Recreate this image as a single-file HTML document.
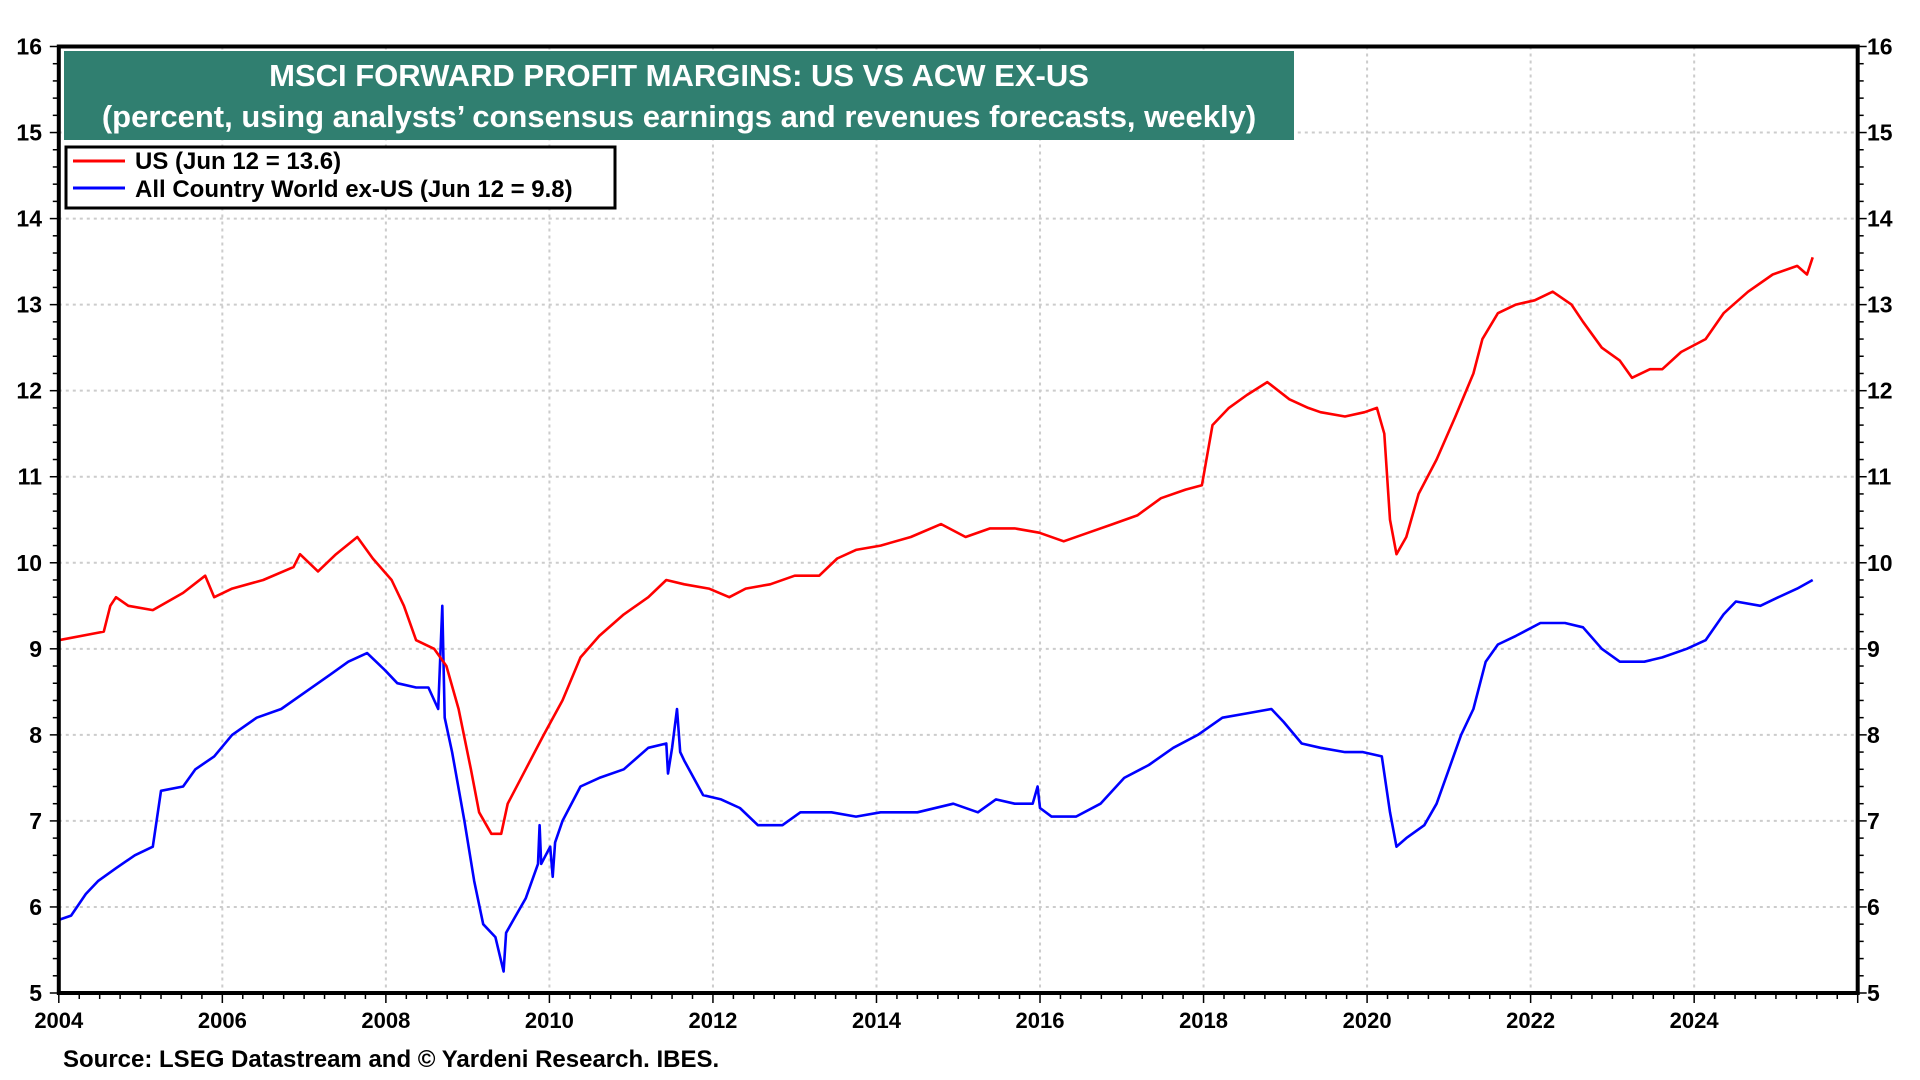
<!DOCTYPE html>
<html><head><meta charset="utf-8"><style>
html,body{margin:0;padding:0;background:#fff;width:1920px;height:1080px;overflow:hidden}
svg text{font-family:"Liberation Sans",Arial,sans-serif;font-weight:bold}
</style></head><body>
<svg id="chart" width="1920" height="1080" viewBox="0 0 1920 1080" xmlns="http://www.w3.org/2000/svg">
<g id="grid"></g>
<g id="series"></g>
<g id="axes"></g>
<g>
<rect x="64" y="51" width="1230" height="89" fill="#307f70"/>
<text x="679" y="86" fill="#fff" font-size="31" text-anchor="middle">MSCI FORWARD PROFIT MARGINS: US VS ACW EX-US</text>
<text x="679" y="127" fill="#fff" font-size="31" text-anchor="middle">(percent, using analysts’ consensus earnings and revenues forecasts, weekly)</text>
</g>
<g>
<rect x="66" y="147" width="549" height="61" fill="#fff" stroke="#000" stroke-width="3"/>
<line x1="73" y1="161" x2="125" y2="161" stroke="#f00" stroke-width="3"/>
<text x="135" y="169" font-size="24">US (Jun 12 = 13.6)</text>
<line x1="73" y1="188" x2="125" y2="188" stroke="#00f" stroke-width="3"/>
<text x="135" y="197" font-size="24">All Country World ex-US (Jun 12 = 9.8)</text>
</g>
<text x="63" y="1067" font-size="24">Source: LSEG Datastream and © Yardeni Research. IBES.</text>
</svg>
<script>
const usYears=[2004.00,2004.55,2004.63,2004.70,2004.85,2005.15,2005.52,2005.79,2005.9,2006.12,2006.5,2006.87,2006.95,2007.17,2007.39,2007.65,2007.84,2008.07,2008.22,2008.37,2008.59,2008.74,2008.89,2009.04,2009.14,2009.29,2009.41,2009.49,2009.71,2009.93,2010.16,2010.38,2010.61,2010.91,2011.21,2011.43,2011.65,2011.95,2012.2,2012.4,2012.7,2013.0,2013.3,2013.52,2013.75,2014.05,2014.42,2014.79,2015.09,2015.39,2015.69,2015.99,2016.29,2016.59,2016.89,2017.19,2017.48,2017.78,2017.98,2018.11,2018.31,2018.53,2018.78,2019.05,2019.28,2019.43,2019.73,2019.97,2020.12,2020.21,2020.28,2020.36,2020.48,2020.63,2020.85,2021.08,2021.3,2021.41,2021.6,2021.82,2022.05,2022.27,2022.5,2022.64,2022.87,2023.09,2023.24,2023.46,2023.61,2023.84,2024.14,2024.36,2024.66,2024.96,2025.26,2025.38,2025.45];
const usValues=[9.1,9.2,9.5,9.6,9.5,9.45,9.65,9.85,9.6,9.7,9.8,9.95,10.1,9.9,10.1,10.3,10.05,9.8,9.5,9.1,9.0,8.8,8.3,7.6,7.1,6.85,6.85,7.2,7.6,8.0,8.4,8.9,9.15,9.4,9.6,9.8,9.75,9.7,9.6,9.7,9.75,9.85,9.85,10.05,10.15,10.2,10.3,10.45,10.3,10.4,10.4,10.35,10.25,10.35,10.45,10.55,10.75,10.85,10.9,11.6,11.8,11.95,12.1,11.9,11.8,11.75,11.7,11.75,11.8,11.5,10.5,10.1,10.3,10.8,11.2,11.7,12.2,12.6,12.9,13.0,13.05,13.15,13.0,12.8,12.5,12.35,12.15,12.25,12.25,12.45,12.6,12.9,13.15,13.35,13.45,13.35,13.55];
const acwYears=[2004,2004.15,2004.33,2004.48,2004.7,2004.93,2005.15,2005.25,2005.52,2005.67,2005.9,2006.12,2006.42,2006.72,2007.02,2007.32,2007.54,2007.77,2007.99,2008.14,2008.37,2008.52,2008.64,2008.69,2008.72,2008.81,2008.96,2009.08,2009.19,2009.34,2009.44,2009.47,2009.56,2009.71,2009.86,2009.88,2009.9,2010.01,2010.04,2010.07,2010.16,2010.38,2010.61,2010.91,2011.21,2011.43,2011.45,2011.5,2011.56,2011.6,2011.65,2011.88,2012.1,2012.33,2012.55,2012.85,2013.07,2013.45,2013.75,2014.05,2014.5,2014.94,2015.24,2015.46,2015.69,2015.91,2015.97,2016.0,2016.14,2016.44,2016.74,2017.03,2017.33,2017.63,2017.93,2018.23,2018.53,2018.83,2018.98,2019.2,2019.43,2019.73,2019.95,2020.18,2020.28,2020.36,2020.48,2020.7,2020.85,2021.0,2021.15,2021.3,2021.45,2021.6,2021.82,2022.12,2022.42,2022.64,2022.87,2023.09,2023.39,2023.61,2023.91,2024.14,2024.36,2024.51,2024.81,2025.03,2025.26,2025.45];
const acwValues=[5.85,5.9,6.15,6.3,6.45,6.6,6.7,7.35,7.4,7.6,7.75,8.0,8.2,8.3,8.5,8.7,8.85,8.95,8.75,8.6,8.55,8.55,8.3,9.5,8.2,7.8,7.0,6.3,5.8,5.65,5.25,5.7,5.85,6.1,6.5,6.95,6.5,6.7,6.35,6.75,7.0,7.4,7.5,7.6,7.85,7.9,7.55,7.85,8.3,7.8,7.7,7.3,7.25,7.15,6.95,6.95,7.1,7.1,7.05,7.1,7.1,7.2,7.1,7.25,7.2,7.2,7.4,7.15,7.05,7.05,7.2,7.5,7.65,7.85,8.0,8.2,8.25,8.3,8.15,7.9,7.85,7.8,7.8,7.75,7.1,6.7,6.8,6.95,7.2,7.6,8.0,8.3,8.85,9.05,9.15,9.3,9.3,9.25,9.0,8.85,8.85,8.9,9.0,9.1,9.4,9.55,9.5,9.6,9.7,9.8];
const yTicks=[5,6,7,8,9,10,11,12,13,14,15,16];
const xTickYears=[2004,2006,2008,2010,2012,2014,2016,2018,2020,2022,2024];

const L=58.8,R=1857.7,T=46.5,B=993;
const X0=2004,X1=2026,Y0=5,Y1=16;
const sx=y=>L+(y-X0)/(X1-X0)*(R-L);
const sy=v=>B-(v-Y0)/(Y1-Y0)*(B-T);
const NS='http://www.w3.org/2000/svg';
function mk(tag,parent){const e=document.createElementNS(NS,tag);parent.appendChild(e);return e;}
const grid=document.getElementById('grid'),axes=document.getElementById('axes'),series=document.getElementById('series');

yTicks.forEach(v=>{
  if(v>Y0&&v<Y1){const g=mk('line',grid);
    
    
    g.setAttribute('x1',L);g.setAttribute('x2',R);g.setAttribute('y1',sy(v));g.setAttribute('y2',sy(v));
    g.setAttribute('stroke','#ccc');g.setAttribute('stroke-width','2');g.setAttribute('stroke-dasharray','3 4');}
  const t1=mk('text',axes);
  
  
  t1.setAttribute('x',42);t1.setAttribute('y',sy(v)+8);t1.setAttribute('font-size','23');t1.setAttribute('text-anchor','end');t1.textContent=v;
  const t2=mk('text',axes);
  
  
  t2.setAttribute('x',1867);t2.setAttribute('y',sy(v)+8);t2.setAttribute('font-size','23');t2.textContent=v;
});
for(let v=Y0;v<=Y1+1e-9;v+=0.2){
  const major=Math.abs(v-Math.round(v))<1e-6;
  [[L,-1],[R,1]].forEach(([x,d])=>{const k=mk('line',axes);
    
    
    k.setAttribute('x1',x);k.setAttribute('x2',x+d*(major?9:6));k.setAttribute('y1',sy(v));k.setAttribute('y2',sy(v));
    k.setAttribute('stroke','#000');k.setAttribute('stroke-width','1.5');});
}
xTickYears.forEach(y=>{
  if(y>X0){const g=mk('line',grid);
    
    
    g.setAttribute('x1',sx(y));g.setAttribute('x2',sx(y));g.setAttribute('y1',T);g.setAttribute('y2',B);
    g.setAttribute('stroke','#ccc');g.setAttribute('stroke-width','2');g.setAttribute('stroke-dasharray','3 4');}
  const t=mk('text',axes);
  
  
  t.setAttribute('x',sx(y));t.setAttribute('y',1028);t.setAttribute('font-size','22');t.setAttribute('text-anchor','middle');t.textContent=y;
});
for(let q=X0;q<=X1+1e-9;q+=0.25){
  const major=Math.abs(q-Math.round(q))<1e-6&&Math.round(q)%2===0;
  const k=mk('line',axes);
  
  
  k.setAttribute('x1',sx(q));k.setAttribute('x2',sx(q));k.setAttribute('y1',B);k.setAttribute('y2',B+(major?10:6));
  k.setAttribute('stroke','#000');k.setAttribute('stroke-width','1.5');
}
const frame=mk('rect',axes);


frame.setAttribute('x',L);frame.setAttribute('y',T);frame.setAttribute('width',R-L);frame.setAttribute('height',B-T);
frame.setAttribute('fill','none');frame.setAttribute('stroke','#000');frame.setAttribute('stroke-width','4');

function line(xs,vs,color,name){
  const p=mk('polyline',series);
  
  
  p.setAttribute('points',xs.map((x,i)=>sx(x).toFixed(1)+','+sy(vs[i]).toFixed(1)).join(' '));
  p.setAttribute('fill','none');p.setAttribute('stroke',color);p.setAttribute('stroke-width','2.6');p.setAttribute('stroke-linejoin','round');
}
line(acwYears,acwValues,'#0000ff','acwx-line');
line(usYears,usValues,'#ff0000','us-line');
</script>
</body></html>
